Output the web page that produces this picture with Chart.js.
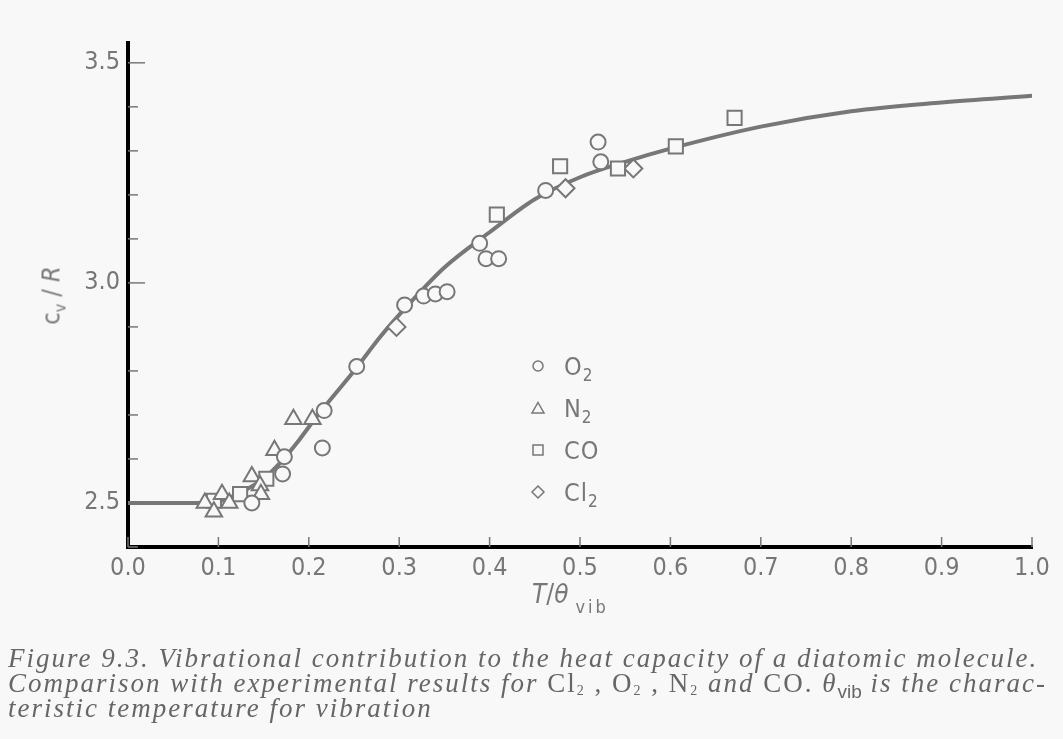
<!DOCTYPE html>
<html>
<head>
<meta charset="utf-8">
<script src="https://cdn.jsdelivr.net/npm/chart.js@4"></script>
<style>
  body { margin: 0; background: #f8f8f8; }
  #wrap { position: relative; width: 1063px; height: 739px; overflow: hidden; }
  canvas { position: absolute; left: 0; top: 0; }
  .lbl { position: absolute; color: #777; font-family: "Liberation Sans Narrow", "DejaVu Sans Condensed", sans-serif; }
  #ytitle { left: 13px; top: 279px; font-size: 25px; transform: rotate(-90deg); transform-origin: center; width: 80px; text-align: center; }
  #ytitle i { font-style: italic; }
  #xtitle { left: 532px; top: 579px; font-size: 26px; }
  #xtitle i { font-style: italic; }
  #xtitle sub { font-size: 18px; letter-spacing: 3px; vertical-align: -10px; margin-left: 7px; }
  #legenda { position: absolute; left: 530px; top: 345px; color: #777; font-family: "Liberation Sans Narrow", "DejaVu Sans Condensed", sans-serif; }
  #legenda div { height: 42px; display: flex; align-items: center; font-size: 25px; }
  #legenda svg { width: 16px; height: 16px; margin-right: 18px; flex: none; }
  #legenda sub { font-size: 17px; vertical-align: -6px; line-height: 0; }
  #legenda span { letter-spacing: 1px; display: inline-block; }
  #legenda svg * { fill: none; stroke: #777; stroke-width: 1.5; }
  #caption { position: absolute; left: 8px; top: 646px; font-family: "Liberation Serif", serif; font-style: italic; font-size: 27px; line-height: 25px; color: #666; letter-spacing: 2px; white-space: nowrap; }
  #caption .up { font-style: normal; }
  #caption sub { font-size: 14px; font-style: normal; vertical-align: -3px; line-height: 0; }
  #caption .vib { font-style: normal; font-family: "Liberation Sans", sans-serif; font-size: 19px; vertical-align: -6px; line-height: 0; letter-spacing: 0; }
</style>
</head>
<body>
<div id="wrap">
  <canvas id="grafico" width="1063" height="739"></canvas>
  <div id="ytitle" class="lbl">c<sub style="font-size:16px">v</sub> / <i>R</i></div>
  <div id="xtitle" class="lbl"><i>T</i>/<i>θ</i><sub>vib</sub></div>
  <div id="legenda">
    <div><svg viewBox="0 0 16 16"><circle cx="8" cy="8" r="5"/></svg><span>O<sub>2</sub></span></div>
    <div><svg viewBox="0 0 16 16"><polygon points="8,2.5 14,13 2,13"/></svg><span>N<sub>2</sub></span></div>
    <div><svg viewBox="0 0 16 16"><rect x="3" y="3" width="10" height="10"/></svg><span>CO</span></div>
    <div><svg viewBox="0 0 16 16"><polygon points="8,2 14,8 8,14 2,8"/></svg><span>Cl<sub>2</sub></span></div>
  </div>
  <div id="caption">Figure 9.3. Vibrational contribution to the heat capacity of a diatomic molecule.<br>Comparison with experimental results for <span class="up">Cl<sub>2</sub> , O<sub>2</sub> , N<sub>2</sub></span> and <span class="up">CO.</span> θ<span class="vib">vib</span> is the charac-<br>teristic temperature for vibration</div>
</div>
<script>
// curva teórica
const curvaX = [0, 0.05, 0.09, 0.11, 0.13, 0.15, 0.17, 0.19, 0.21, 0.23, 0.25, 0.28, 0.31, 0.35, 0.40, 0.45, 0.50, 0.55, 0.60, 0.70, 0.80, 0.90, 1.0];
const curvaY = [2.50, 2.50, 2.50, 2.51, 2.53, 2.555, 2.595, 2.645, 2.70, 2.75, 2.80, 2.88, 2.95, 3.035, 3.115, 3.19, 3.24, 3.275, 3.305, 3.355, 3.39, 3.41, 3.425];

// pontos experimentais
const o2X = [0.137, 0.171, 0.173, 0.215, 0.217, 0.253, 0.306, 0.327, 0.340, 0.353, 0.389, 0.396, 0.410, 0.462, 0.520, 0.523];
const o2Y = [2.50, 2.566, 2.605, 2.625, 2.71, 2.81, 2.95, 2.97, 2.975, 2.98, 3.09, 3.055, 3.055, 3.21, 3.32, 3.275];
const n2X = [0.085, 0.095, 0.104, 0.112, 0.137, 0.146, 0.147, 0.162, 0.183, 0.204];
const n2Y = [2.50, 2.48, 2.52, 2.50, 2.56, 2.54, 2.52, 2.62, 2.69, 2.69];
const coX = [0.095, 0.124, 0.153, 0.408, 0.478, 0.542, 0.606, 0.671];
const coY = [2.505, 2.52, 2.555, 3.155, 3.265, 3.26, 3.31, 3.375];
const cl2X = [0.297, 0.484, 0.559];
const cl2Y = [2.90, 3.215, 3.26];

const yMarcados = [2.5, 3.0, 3.5];
const cinza = "#777";
const fundo = "#f8f8f8";
const raios = { circle: 7.5, triangle: 9.5, rect: 10, rectRot: 9 };

function pares(xs, ys) {
  return xs.map((x, i) => ({ x: x, y: ys[i] }));
}

function serie(label, xs, ys, estilo) {
  return {
    type: "scatter",
    label: label,
    data: pares(xs, ys),
    pointStyle: estilo,
    pointRadius: raios[estilo],
    pointBorderWidth: 2,
    borderColor: cinza,
    backgroundColor: fundo,
    order: 0
  };
}

// tiques para dentro do gráfico
const tiquesInternos = {
  id: "tiquesInternos",
  afterDraw(chart) {
    const ctx = chart.ctx;
    const xs = chart.scales.x;
    const ys = chart.scales.y;
    const area = chart.chartArea;
    ctx.save();
    ctx.strokeStyle = cinza;
    ctx.lineWidth = 1.5;
    xs.ticks.forEach(t => {
      const px = xs.getPixelForValue(t.value);
      ctx.beginPath();
      ctx.moveTo(px, area.bottom);
      ctx.lineTo(px, area.bottom - 10);
      ctx.stroke();
    });
    ys.ticks.forEach(t => {
      const py = ys.getPixelForValue(t.value);
      const maior = yMarcados.some(v => Math.abs(v - t.value) < 1e-6);
      ctx.beginPath();
      ctx.moveTo(area.left, py);
      ctx.lineTo(area.left + (maior ? 17 : 10), py);
      ctx.stroke();
    });
    ctx.restore();
  }
};

const fonteTique = { family: "'Liberation Sans Narrow', 'DejaVu Sans Condensed', sans-serif", size: 25 };

new Chart(document.getElementById("grafico").getContext("2d"), {
  data: {
    datasets: [
      {
        type: "line",
        label: "teoria",
        data: pares(curvaX, curvaY),
        borderColor: cinza,
        borderWidth: 4,
        pointRadius: 0,
        cubicInterpolationMode: "monotone",
        fill: false,
        order: 1
      },
      serie("O2", o2X, o2Y, "circle"),
      serie("N2", n2X, n2Y, "triangle"),
      serie("CO", coX, coY, "rect"),
      serie("Cl2", cl2X, cl2Y, "rectRot")
    ]
  },
  options: {
    responsive: false,
    animation: false,
    layout: { padding: { left: 0, top: 43, right: 31, bottom: 0 } },
    plugins: { legend: { display: false }, tooltip: { enabled: false } },
    scales: {
      x: {
        type: "linear",
        min: 0,
        max: 1,
        afterFit: s => { s.height = 192; },
        afterBuildTicks: s => { s.ticks = [0,1,2,3,4,5,6,7,8,9,10].map(i => ({ value: i / 10 })); },
        ticks: { color: cinza, font: fonteTique, padding: 6, callback: v => v.toFixed(1), maxRotation: 0, autoSkip: false },
        grid: { display: false, drawTicks: false },
        border: { display: true, color: "#000", width: 4 }
      },
      y: {
        type: "linear",
        min: 2.4,
        max: 3.545,
        afterFit: s => { s.width = 128; },
        afterBuildTicks: s => { s.ticks = [24,25,26,27,28,29,30,31,32,33,34,35].map(i => ({ value: i / 10 })); },
        ticks: {
          color: cinza,
          font: fonteTique,
          padding: 8,
          autoSkip: false,
          callback: v => yMarcados.some(m => Math.abs(m - v) < 1e-6) ? v.toFixed(1) : ""
        },
        grid: { display: false, drawTicks: false },
        border: { display: true, color: "#000", width: 4 }
      }
    }
  },
  plugins: [tiquesInternos]
});
</script>
</body>
</html>
